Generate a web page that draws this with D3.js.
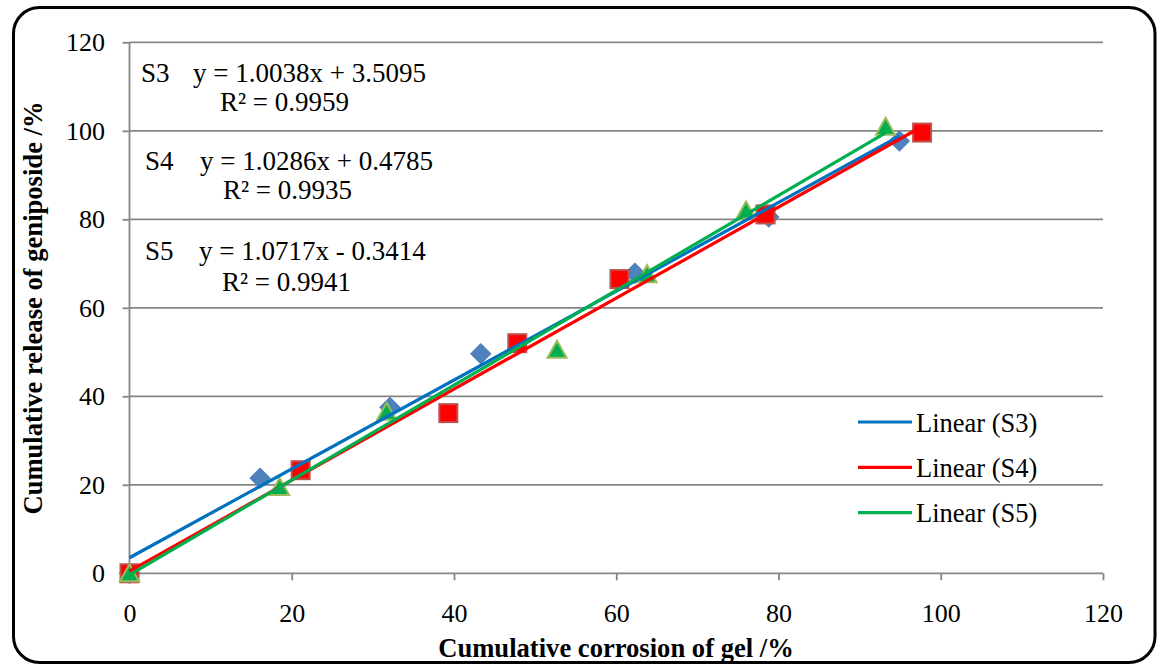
<!DOCTYPE html>
<html><head><meta charset="utf-8">
<script src="https://cdn.jsdelivr.net/npm/d3@7"></script>
<style>html,body{margin:0;padding:0;background:#fff;}svg{display:block;}</style>
</head><body>
<script>
// ---- data ----
const seriesNames = ["S3", "S4", "S5"];
const s3X = [0, 16.1, 32.1, 43.3, 62.3, 78.8, 94.9];
const s3Y = [0, 21.5, 37.5, 49.6, 67.8, 80.5, 97.7];
const s4X = [0, 21.1, 39.3, 47.8, 60.4, 78.4, 97.7];
const s4Y = [0, 23.3, 36.2, 52.0, 66.5, 81.1, 99.6];
const s5X = [0, 18.5, 31.7, 52.7, 63.8, 76.0, 93.2];
const s5Y = [0, 19.5, 36.5, 50.5, 67.6, 82.0, 100.9];
const slopes = [1.0038, 1.0286, 1.0717];
const intercepts = [3.5095, 0.4785, -0.3414];
const eqLabels = ["y = 1.0038x + 3.5095", "y = 1.0286x + 0.4785", "y = 1.0717x - 0.3414"];
const r2Labels = ["R\u00B2 = 0.9959", "R\u00B2 = 0.9935", "R\u00B2 = 0.9941"];
const legendLabels = ["Linear (S3)", "Linear (S4)", "Linear (S5)"];
const xTicks = [0, 20, 40, 60, 80, 100, 120];
const yTicks = [0, 20, 40, 60, 80, 100, 120];
const xTitle = "Cumulative corrosion of gel /%";
const yTitle = "Cumulative release of geniposide /%";

// ---- styles ----
const W = 1162, H = 666;
const FONT = "'Liberation Serif', 'Times New Roman', serif";
const lineColors = ["#0070C0", "#FF0000", "#00B050"];
const gridColor = "#868686";

const svg = d3.select("body").append("svg").attr("width", W).attr("height", H);

// outer rounded border
svg.append("rect").attr("x", 13.5).attr("y", 7.5).attr("width", 1141.5).attr("height", 655)
  .attr("rx", 26).attr("ry", 26).attr("fill", "#fff").attr("stroke", "#000").attr("stroke-width", 3);

const x = d3.scaleLinear().domain([0, 120]).range([129.5, 1103]);
const y = d3.scaleLinear().domain([0, 120]).range([573.3, 42.3]);

// gridlines
svg.append("g").selectAll("line").data(yTicks.filter(d => d > 0)).join("line")
  .attr("x1", x(0)).attr("x2", x(120)).attr("y1", d => y(d)).attr("y2", d => y(d))
  .attr("stroke", gridColor).attr("stroke-width", 1.8);

// axes
const xAxis = svg.append("g").attr("transform", `translate(0,${y(0)})`)
  .call(d3.axisBottom(x).tickValues(xTicks).tickSize(7).tickPadding(23).tickFormat(d3.format("d")));
const yAxis = svg.append("g").attr("transform", `translate(${x(0)},0)`)
  .call(d3.axisLeft(y).tickValues(yTicks).tickSize(7).tickPadding(17.5).tickFormat(d3.format("d")));
[xAxis, yAxis].forEach(g => {
  g.attr("font-family", FONT).attr("font-size", 26);
  g.select(".domain").attr("stroke", gridColor).attr("stroke-width", 1.8);
  g.selectAll(".tick line").attr("stroke", gridColor).attr("stroke-width", 1.8);
  g.selectAll(".tick text").attr("fill", "#000").style("font-family", FONT).style("font-size", "26px");
});
xAxis.select(".domain").attr("d", `M${x(0)},0H${x(120)}`);
yAxis.select(".domain").attr("d", `M0,${y(0)}V${y(120)}`);

// markers
const allX = [s3X, s4X, s5X], allY = [s3Y, s4Y, s5Y];
const mk = svg.append("g");
// S3 diamonds
mk.selectAll("path.s3").data(d3.range(s3X.length)).join("path").attr("class", "s3")
  .attr("d", d3.symbol().type(d3.symbolSquare).size(200))
  .attr("transform", i => `translate(${x(s3X[i])},${y(s3Y[i])}) rotate(45)`)
  .attr("fill", "#4F81BD").attr("stroke", "#4A7EBB").attr("stroke-width", 1);
// S4 squares
mk.selectAll("rect.s4").data(d3.range(s4X.length)).join("rect").attr("class", "s4")
  .attr("x", i => x(s4X[i]) - 9).attr("y", i => y(s4Y[i]) - 9).attr("width", 18).attr("height", 18)
  .attr("fill", "#FF0000").attr("stroke", "#C0504D").attr("stroke-width", 2);
// S5 triangles (bounding-box centered)
mk.selectAll("path.s5").data(d3.range(s5X.length)).join("path").attr("class", "s5")
  .attr("d", i => { const cx = x(s5X[i]), cy = y(s5Y[i]);
    return `M${cx},${cy - 9}L${cx + 9.5},${cy + 8}L${cx - 9.5},${cy + 8}Z`; })
  .attr("fill", "#00B050").attr("stroke", "#9BBB59").attr("stroke-width", 2);

// trend lines
const tl = svg.append("g");
seriesNames.forEach((s, k) => {
  const x0 = d3.min(allX[k]), x1 = d3.max(allX[k]);
  tl.append("line")
    .attr("x1", x(x0)).attr("y1", y(slopes[k] * x0 + intercepts[k]))
    .attr("x2", x(x1)).attr("y2", y(slopes[k] * x1 + intercepts[k]))
    .attr("stroke", lineColors[k]).attr("stroke-width", 3.2);
});

// equation annotations
const ann = svg.append("g").style("font-family", FONT).style("font-size", "27px").attr("fill", "#000");
const annPos = [
  {sx: 141, ex: 193, ey: 82, rx: 220, ry: 111},
  {sx: 145, ex: 200, ey: 170, rx: 223, ry: 199},
  {sx: 145, ex: 199, ey: 260, rx: 222, ry: 291}
];
seriesNames.forEach((s, k) => {
  const p = annPos[k];
  ann.append("text").attr("x", p.sx).attr("y", p.ey).text(s);
  ann.append("text").attr("x", p.ex).attr("y", p.ey).text(eqLabels[k]);
  ann.append("text").attr("x", p.rx).attr("y", p.ry).text(r2Labels[k]);
});

// legend
const lg = svg.append("g");
legendLabels.forEach((t, k) => {
  const ly = 422 + k * 45.3;
  lg.append("line").attr("x1", 858).attr("x2", 912).attr("y1", ly).attr("y2", ly)
    .attr("stroke", lineColors[k]).attr("stroke-width", 3.2);
  lg.append("text").attr("x", 916).attr("y", ly + 9.5).text(t)
    .style("font-family", FONT).style("font-size", "26.5px").attr("fill", "#000");
});

// axis titles
svg.append("text").attr("x", 616).attr("y", 657).attr("text-anchor", "middle")
  .style("font-family", FONT).style("font-size", "26.6px").style("font-weight", "bold").text(xTitle);
svg.append("text").attr("transform", "translate(42,308) rotate(-90)").attr("text-anchor", "middle")
  .style("font-family", FONT).style("font-size", "26.6px").style("font-weight", "bold").text(yTitle);
</script>
</body></html>
